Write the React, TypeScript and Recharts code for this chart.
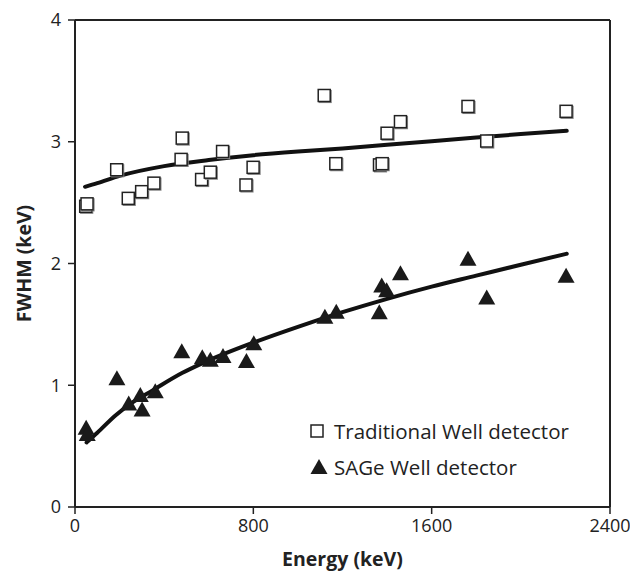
import { ComposedChart, Line, Scatter, XAxis, YAxis, ReferenceLine } from 'recharts'

// measured points, energy (keV) vs FWHM (keV)
const tradPoints = [
  { x: 48, y: 2.47 }, { x: 54, y: 2.49 }, { x: 187, y: 2.77 }, { x: 239, y: 2.535 },
  { x: 299, y: 2.59 }, { x: 354, y: 2.66 }, { x: 476, y: 2.855 }, { x: 481, y: 3.03 },
  { x: 568, y: 2.69 }, { x: 607, y: 2.75 }, { x: 662, y: 2.92 }, { x: 767, y: 2.645 },
  { x: 799, y: 2.79 }, { x: 1118, y: 3.38 }, { x: 1170, y: 2.82 }, { x: 1366, y: 2.81 },
  { x: 1378, y: 2.82 }, { x: 1400, y: 3.07 }, { x: 1460, y: 3.165 }, { x: 1763, y: 3.29 },
  { x: 1847, y: 3.006 }, { x: 2203, y: 3.25 },
]

const sagePoints = [
  { x: 50, y: 0.65 }, { x: 55, y: 0.6 }, { x: 188, y: 1.057 }, { x: 241, y: 0.85 },
  { x: 293, y: 0.92 }, { x: 301, y: 0.8 }, { x: 360, y: 0.95 }, { x: 479, y: 1.28 },
  { x: 571, y: 1.23 }, { x: 607, y: 1.21 }, { x: 664, y: 1.24 }, { x: 769, y: 1.2 },
  { x: 802, y: 1.345 }, { x: 1121, y: 1.563 }, { x: 1172, y: 1.604 }, { x: 1365, y: 1.6 },
  { x: 1376, y: 1.82 }, { x: 1398, y: 1.78 }, { x: 1460, y: 1.92 }, { x: 1763, y: 2.04 },
  { x: 1847, y: 1.72 }, { x: 2203, y: 1.9 },
]

// fitted trend lines
const tradFit = [
  { x: 45, y: 2.63 }, { x: 100, y: 2.66 }, { x: 200, y: 2.72 }, { x: 400, y: 2.8 },
  { x: 600, y: 2.85 }, { x: 800, y: 2.89 }, { x: 1000, y: 2.92 }, { x: 1200, y: 2.945 },
  { x: 1400, y: 2.975 }, { x: 1600, y: 3.005 }, { x: 1800, y: 3.035 }, { x: 2000, y: 3.063 },
  { x: 2206, y: 3.09 },
]

const sageFit = [
  { x: 52, y: 0.53 }, { x: 100, y: 0.61 }, { x: 180, y: 0.75 }, { x: 250, y: 0.85 },
  { x: 350, y: 0.96 }, { x: 480, y: 1.1 }, { x: 570, y: 1.18 }, { x: 800, y: 1.35 },
  { x: 1000, y: 1.48 }, { x: 1200, y: 1.6 }, { x: 1400, y: 1.71 }, { x: 1600, y: 1.81 },
  { x: 1800, y: 1.9 }, { x: 2000, y: 1.99 }, { x: 2206, y: 2.08 },
]

const xTicks = [0, 800, 1600, 2400]
const yTicks = [0, 1, 2, 3, 4]

const FONT = '"Open Sans", sans-serif'
const INK = '#1a1a1a'

const SquareDot = (props: any) => {
  const { cx, cy } = props
  if (cx == null || cy == null) return null
  return (
    <g>
      <rect x={cx - 5} y={cy - 5} width={12} height={12} fill="none" stroke="#888" strokeWidth={1.2} />
      <rect x={cx - 6} y={cy - 6} width={12} height={12} fill="#fff" stroke="#222" strokeWidth={1.5} />
    </g>
  )
}

const TriangleDot = (props: any) => {
  const { cx, cy } = props
  if (cx == null || cy == null) return null
  return <polygon points={`${cx},${cy - 8} ${cx + 8.5},${cy + 7} ${cx - 8.5},${cy + 7}`} fill={INK} />
}

export default function App() {
  const tick = { fill: '#222', fontSize: 18, fontFamily: FONT }
  return (
    <div style={{ position: 'absolute', left: 0, top: 0, width: 630, height: 573, background: '#fff' }}>
      <ComposedChart width={630} height={573} margin={{ top: 20, right: 20, bottom: 0, left: 0 }}>
        <XAxis
          type="number"
          dataKey="x"
          domain={[0, 2400]}
          ticks={xTicks}
          height={66}
          tickSize={7}
          tickMargin={5}
          axisLine={{ stroke: '#222', strokeWidth: 2 }}
          tickLine={{ stroke: '#222', strokeWidth: 1.5 }}
          tick={tick}
          label={{ value: 'Energy (keV)', position: 'insideBottom', offset: 7, fill: '#222', fontSize: 19.5, fontWeight: 700, fontFamily: FONT }}
        />
        <YAxis
          type="number"
          dataKey="y"
          domain={[0, 4]}
          ticks={yTicks}
          width={75}
          tickSize={7}
          tickMargin={7}
          axisLine={{ stroke: '#222', strokeWidth: 2 }}
          tickLine={{ stroke: '#222', strokeWidth: 1.5 }}
          tick={tick}
          label={{ value: 'FWHM (keV)', angle: -90, position: 'insideLeft', offset: 24, fill: '#222', fontSize: 19.5, fontWeight: 700, fontFamily: FONT, style: { textAnchor: 'middle' } }}
        />
        <ReferenceLine y={4} stroke="#222" strokeWidth={2} />
        <ReferenceLine x={2400} stroke="#222" strokeWidth={2} />
        <Line data={tradFit} dataKey="y" type="monotone" stroke="#111" strokeWidth={4} strokeLinecap="round" dot={false} activeDot={false} isAnimationActive={false} />
        <Line data={sageFit} dataKey="y" type="monotone" stroke="#111" strokeWidth={4} strokeLinecap="round" dot={false} activeDot={false} isAnimationActive={false} />
        <Scatter data={tradPoints} shape={SquareDot} isAnimationActive={false} />
        <Scatter data={sagePoints} shape={TriangleDot} isAnimationActive={false} />
      </ComposedChart>
      <div style={{ position: 'absolute', left: 310, top: 421, fontFamily: FONT, fontSize: 20.5, lineHeight: '20px', color: '#222', whiteSpace: 'nowrap' }}>
        <div style={{ display: 'flex', alignItems: 'center', height: 20 }}>
          <svg width={14} height={14} style={{ marginRight: 10 }}>
            <rect x={1} y={1} width={12} height={12} fill="#fff" stroke="#222" strokeWidth={1.5} />
          </svg>
          <span>Traditional Well detector</span>
        </div>
        <div style={{ display: 'flex', alignItems: 'center', height: 20, marginTop: 16 }}>
          <svg width={18} height={16} style={{ marginRight: 6 }}>
            <polygon points="9,0 17.5,15 0.5,15" fill={INK} />
          </svg>
          <span>SAGe Well detector</span>
        </div>
      </div>
    </div>
  )
}
